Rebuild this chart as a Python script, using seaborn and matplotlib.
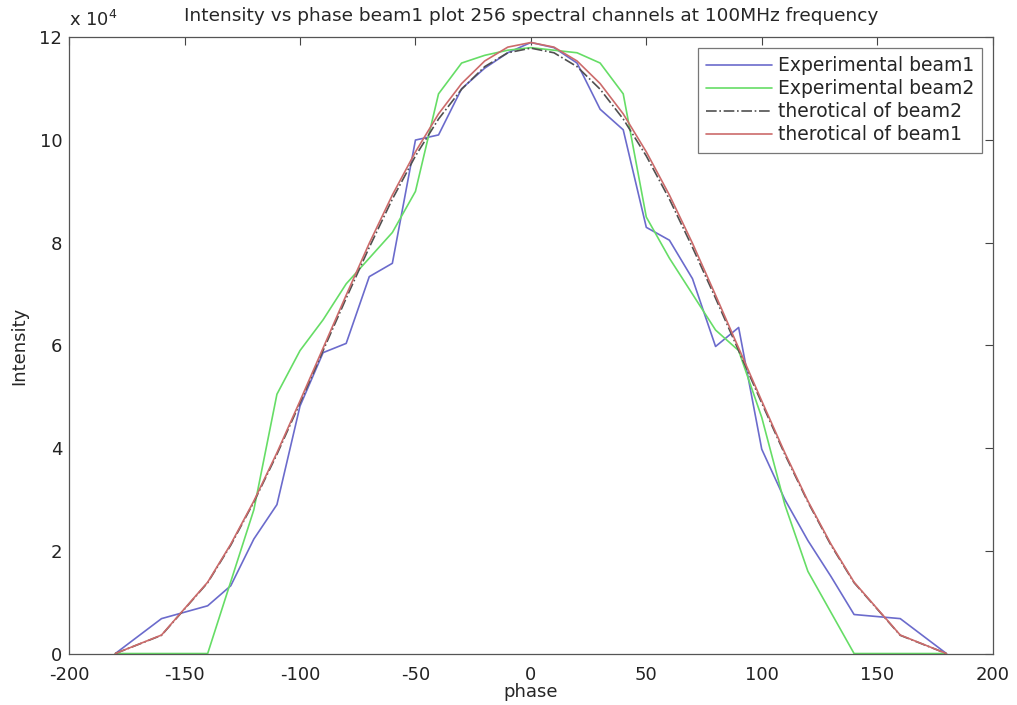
import numpy as np
import pandas as pd
import matplotlib
matplotlib.use("Agg")
import matplotlib.pyplot as plt
import seaborn as sns
from matplotlib.ticker import FuncFormatter

phase = [-180, -160, -140, -130, -120, -110, -100, -90, -80, -70, -60, -50, -40,
         -30, -20, -10, 0, 10, 20, 30, 40, 50, 60, 70, 80, 90, 100, 110, 120,
         130, 140, 160, 180]

exp_beam1 = [0, 6800, 9300, 13200, 22300, 29000, 48200, 58600, 60400, 73400,
             76000, 100000, 101000, 110000, 114000, 117000, 119000, 118000,
             115000, 106000, 102000, 83000, 80500, 73000, 59800, 63500, 39800,
             30000, 22000, 15000, 7600, 6800, 0]

exp_beam2 = [0, 0, 0, 14000, 28000, 50500, 59000, 65000, 72000, 77000, 82000,
             90000, 109000, 115000, 116500, 117500, 118000, 117500, 117000,
             115000, 109000, 85000, 77000, 70000, 63000, 59000, 46000, 29000,
             16000, 8000, 0, 0, 0]

theo_beam2 = [0, 3550, 13800, 21100, 29500, 38800, 48800, 59000, 69200, 79100,
              88500, 96900, 104100, 109900, 114300, 117000, 117900, 117000,
              114300, 109900, 104100, 96900, 88500, 79100, 69200, 59000, 48800,
              38800, 29500, 21100, 13800, 3550, 0]

theo_beam1 = [0, 3600, 13900, 21300, 29700, 39100, 49200, 59500, 69800, 79900,
              89300, 97700, 105100, 111000, 115400, 118100, 119000, 118100,
              115400, 111000, 105100, 97700, 89300, 79900, 69800, 59500, 49200,
              39100, 29700, 21300, 13900, 3600, 0]

names = ["Experimental beam1", "Experimental beam2",
         "therotical of beam2", "therotical of beam1"]
colors = ["#6b6bcc", "#66dd66", "#505050", "#cc6b6b"]
styles = ["-", "-", "-.", "-"]

df = pd.DataFrame({"phase": phase, names[0]: exp_beam1, names[1]: exp_beam2,
                   names[2]: theo_beam2, names[3]: theo_beam1})

sns.set_style("white")
plt.rcParams["font.family"] = ["DejaVu Sans"]
plt.rcParams["axes.unicode_minus"] = False

fig = plt.figure(figsize=(10.17, 7.05), dpi=100)
ax = fig.add_axes([0.068, 0.073, 0.908, 0.874])

for name, c, ls in zip(names, colors, styles):
    sns.lineplot(data=df, x="phase", y=name, ax=ax, color=c, linestyle=ls,
                 linewidth=1.2, label=name)

ax.set(xlim=(-200, 200), ylim=(0, 120000))
ax.set_xticks(np.arange(-200, 201, 50))
ax.set_yticks(np.arange(0, 120001, 20000))
ax.yaxis.set_major_formatter(FuncFormatter(lambda v, p: f"{v / 1e4:g}"))
ax.tick_params(direction="in", top=True, right=True, length=6, width=0.8,
               labelsize=13, color="#444444", labelcolor="#222222")
ax.tick_params(axis="x", pad=9)
ax.tick_params(axis="y", pad=5)
for s in ax.spines.values():
    s.set_color("#555555")
    s.set_linewidth(0.9)
ax.set_xlabel("phase", fontsize=13, labelpad=-1)
ax.set_ylabel("Intensity", fontsize=13, labelpad=8)
ax.set_title("Intensity vs phase beam1 plot 256 spectral channels at 100MHz frequency",
             fontsize=13.3, pad=12)
ax.text(0.0, 1.012, "x 10$^4$", transform=ax.transAxes, fontsize=13,
        ha="left", va="bottom")

leg = ax.legend(loc="upper right", fontsize=13.5, handlelength=3.5,
                frameon=True, fancybox=False, borderaxespad=0.55,
                labelspacing=0.22, handletextpad=0.3, borderpad=0.45)
leg.get_frame().set_edgecolor("#555555")
leg.get_frame().set_linewidth(0.9)

fig.savefig("out.png", dpi=100)
